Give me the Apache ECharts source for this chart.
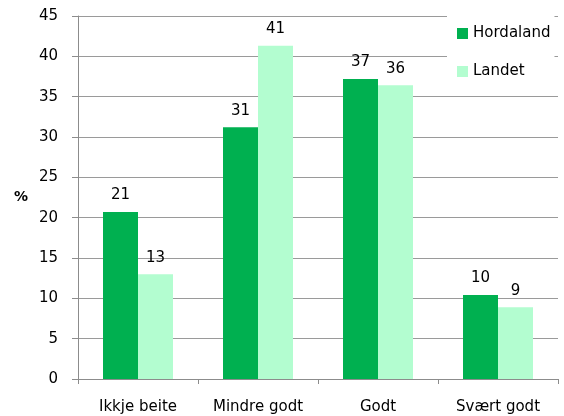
<!DOCTYPE html>
<html>
<head>
<meta charset="utf-8">
<script src="https://cdn.jsdelivr.net/npm/echarts@6/dist/echarts.min.js"></script>
<style>
  html, body { margin: 0; padding: 0; background: #fff; }
  #chart { width: 564px; height: 416px; }
</style>
</head>
<body>
<div id="chart"></div>
<script>
  const categories = ['Ikkje beite', 'Mindre godt', 'Godt', 'Svært godt'];
  const hordaland = [20.7, 31.2, 37.2, 10.4];
  const landet = [13.0, 41.3, 36.4, 8.9];
  const yTicks = [0, 5, 10, 15, 20, 25, 30, 35, 40, 45];

  const font = 'DejaVu Sans';
  const chart = echarts.init(document.getElementById('chart'));

  // 柱子标签
  const barLabel = {
    show: true,
    position: 'top',
    distance: 9,
    color: '#000',
    fontFamily: font,
    fontSize: 15,
    formatter: p => Math.round(p.value)
  };

  chart.setOption({
    animation: false,
    textStyle: { fontFamily: font },
    grid: { left: 78, right: 6, top: 16, bottom: 37 },
    legend: {
      orient: 'vertical',
      left: 447,
      top: 16,
      icon: 'rect',
      itemWidth: 11,
      itemHeight: 11,
      itemGap: 23,
      padding: [10, 4, 10, 10],
      backgroundColor: '#fff',
      textStyle: { color: '#000', fontSize: 15, fontFamily: font },
      data: ['Hordaland', 'Landet']
    },
    xAxis: {
      type: 'category',
      data: categories,
      axisLine: { lineStyle: { color: '#8c8c8c', width: 1 } },
      axisTick: { show: true, length: 5, lineStyle: { color: '#8c8c8c' } },
      axisLabel: { color: '#000', fontSize: 15, margin: 21, fontFamily: font }
    },
    yAxis: {
      type: 'value',
      min: yTicks[0],
      max: yTicks[yTicks.length - 1],
      interval: yTicks[1] - yTicks[0],
      name: '%',
      nameLocation: 'middle',
      nameRotate: 0,
      nameGap: 50,
      nameTextStyle: { color: '#000', fontWeight: 'bold', fontSize: 14, fontFamily: font },
      axisLine: { show: true, lineStyle: { color: '#8c8c8c', width: 1 } },
      axisTick: { show: true, length: 6, lineStyle: { color: '#8c8c8c' } },
      axisLabel: { color: '#000', fontSize: 15, margin: 20, fontFamily: font },
      splitLine: { lineStyle: { color: '#9a9a9a', width: 1 } }
    },
    series: [
      {
        name: 'Hordaland',
        type: 'bar',
        data: hordaland,
        barWidth: 35,
        barGap: '0%',
        itemStyle: { color: '#00b050' },
        label: barLabel
      },
      {
        name: 'Landet',
        type: 'bar',
        data: landet,
        barWidth: 35,
        itemStyle: { color: '#b3fdd0' },
        label: barLabel
      }
    ]
  });
</script>
</body>
</html>
